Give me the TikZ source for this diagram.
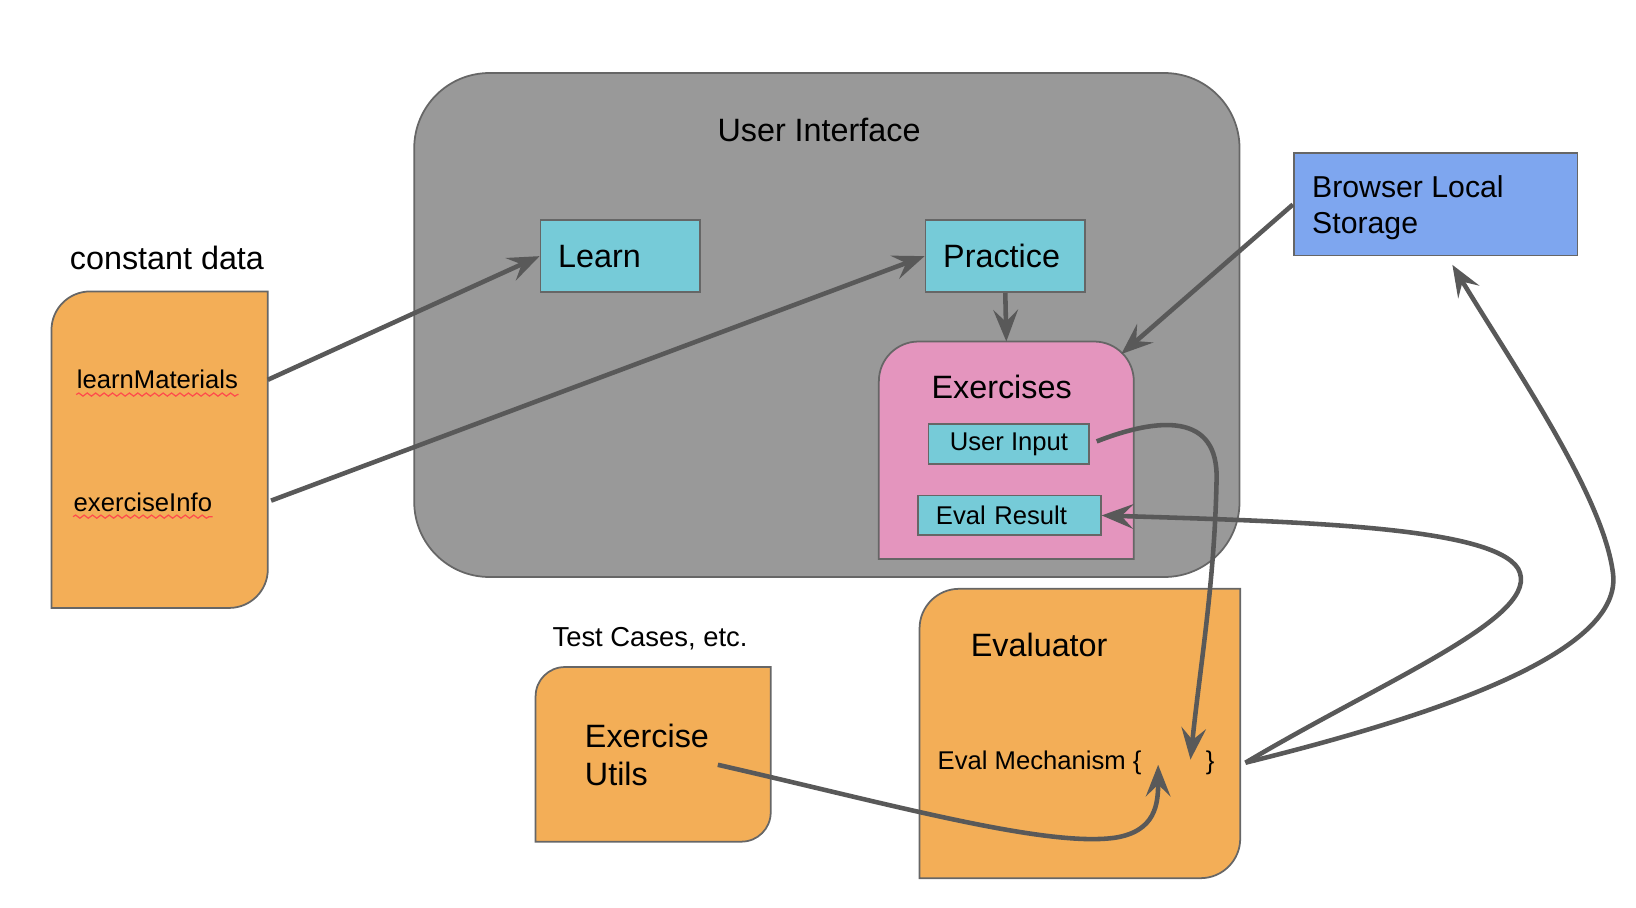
\documentclass[tikz,border=0pt]{standalone}
\usepackage{fontspec}
\setmainfont{Liberation Sans}
\usetikzlibrary{arrows.meta,calc,decorations.pathmorphing}
\newcommand{\px}{0.010434cm}
\newcommand{\bigtxt}{\fontsize{9.2}{11}\selectfont}
\newcommand{\midtxt}{\fontsize{8.6}{10.1}\selectfont}
\newcommand{\testtxt}{\fontsize{7.8}{9}\selectfont}
\newcommand{\smalltxt}{\fontsize{7.3}{8.5}\selectfont}
\definecolor{orangefill}{HTML}{F3AE57}
\definecolor{grayfill}{HTML}{999999}
\definecolor{cyanfill}{HTML}{76CBD8}
\definecolor{pinkfill}{HTML}{E495BE}
\definecolor{bluefill}{HTML}{7EA6EF}
\definecolor{edgegray}{HTML}{666666}
\definecolor{arrowgray}{HTML}{595959}
\tikzset{
  box/.style={draw=edgegray, line width=0.5pt},
  cyanbox/.style={box, fill=cyanfill, inner sep=0pt},
  txt/.style={inner sep=0pt},
  link/.style={draw=arrowgray, line width=1.3pt, -{Stealth[length=9pt,width=7pt,inset=3.4pt]}},
  squiggle/.style={draw=red!70, line width=0.35pt, decorate, decoration={snake, amplitude=0.45pt, segment length=2.4pt}}
}
\begin{document}
\begin{tikzpicture}[x=\px, y=-\px]
\pgfmathsetmacro{\rcd}{37}
\pgfmathsetmacro{\rut}{28}
\pgfmathsetmacro{\rev}{38}
\useasboundingbox (0,0) rectangle (1568,870.2);
\node[box, fill=grayfill, rounded corners=72*\px, minimum width=791*\px, minimum height=483*\px] (ui) at (792.5,311.5) {};
\node[txt, font=\bigtxt] (uititle) at (785,125) {User Interface};
\node[cyanbox, font=\bigtxt, minimum width=153*\px, minimum height=69*\px, text width=119*\px, inner xsep=17*\px, align=left] (learn) at (594.5,245.5) {Learn};
\node[cyanbox, font=\bigtxt, minimum width=153*\px, minimum height=69*\px, text width=119*\px, inner xsep=17*\px, align=left] (practice) at (963.5,245.5) {Practice};
\node[minimum width=243*\px, minimum height=207*\px] (ex) at (964.5,431.5) {};
\draw[box, fill=pinkfill] (ex.south west) -- ([yshift=-38*\px]ex.north west) arc[start angle=180, end angle=90, radius=38*\px] -- ([xshift=-38*\px]ex.north east) arc[start angle=90, end angle=0, radius=38*\px] -- (ex.south east) -- cycle;
\node[txt, font=\bigtxt] (extitle) at (960,371) {Exercises};
\node[cyanbox, font=\smalltxt, minimum width=154*\px, minimum height=38*\px] (uin) at (967,425.5) {User Input};
\node[cyanbox, font=\smalltxt, minimum width=175*\px, minimum height=38*\px, text width=141*\px, inner xsep=17*\px, align=left] (eres) at (967.5,494) {Eval Result};
\node[box, fill=bluefill, minimum width=272*\px, minimum height=98*\px] (store) at (1376,196) {};
\node[txt, font=\midtxt, anchor=west, align=left] (storetxt) at (1257,199) {Browser Local\\Storage};
\node[txt, font=\bigtxt] (cdtitle) at (160,247) {constant data};
\node[minimum width=206*\px, minimum height=302*\px] (cdbox) at (153,431) {};
\draw[box, fill=orangefill] (cdbox.south west) -- ([yshift=-\rcd*\px]cdbox.north west) arc[start angle=180, end angle=90, radius=\rcd*\px] -- (cdbox.north east) -- ([yshift=\rcd*\px]cdbox.south east) arc[start angle=0, end angle=-90, radius=\rcd*\px] -- cycle;
\node[txt, font=\smalltxt, anchor=west] (lm) at (73,364) {learnMaterials};
\node[txt, font=\smalltxt, anchor=west] (ei) at (70,481) {exerciseInfo};
\draw[squiggle] ([yshift=-1.6pt]lm.base west) -- ([yshift=-1.6pt]lm.base east);
\draw[squiggle] ([yshift=-1.6pt]ei.base west) -- ([yshift=-1.6pt]ei.base east);
\node[txt, font=\testtxt] (tctitle) at (623,612) {Test Cases, etc.};
\node[minimum width=224*\px, minimum height=166*\px] (utbox) at (626,723) {};
\draw[box, fill=orangefill] (utbox.south west) -- ([yshift=-\rut*\px]utbox.north west) arc[start angle=180, end angle=90, radius=\rut*\px] -- (utbox.north east) -- ([yshift=\rut*\px]utbox.south east) arc[start angle=0, end angle=-90, radius=\rut*\px] -- cycle;
\node[txt, font=\bigtxt, anchor=west, align=left] (utils) at (560,723.5) {Exercise\\Utils};
\node[minimum width=306*\px, minimum height=276*\px] (evbox) at (1035,703) {};
\draw[box, fill=orangefill] (evbox.south west) -- ([yshift=-\rev*\px]evbox.north west) arc[start angle=180, end angle=90, radius=\rev*\px] -- (evbox.north east) -- ([yshift=\rev*\px]evbox.south east) arc[start angle=0, end angle=-90, radius=\rev*\px] -- cycle;
\node[txt, font=\bigtxt] (evtitle) at (996,618) {Evaluator};
\node[txt, font=\smalltxt, anchor=west] (mech) at (898,731) {Eval Mechanism \{};
\node[txt, font=\smalltxt, anchor=west] (brace) at (1155,731) {\}};
\coordinate (evout) at ($(brace.east -| evbox.east)+(5,0)$);
\coordinate (utout) at (688,733);
\coordinate (slotA) at (1141,728);
\coordinate (slotB) at (1110,733);
\draw[link] (lm.east -| cdbox.east) -- (learn.west);
\draw[link, shorten <=1pt] (ei.east -| cdbox.east) -- (practice.west);
\draw[link] (practice.south) -- (ex.north);
\draw[link] (store.west) -- ([shift={(-12,12)}]ex.north east);
\draw[link, shorten <=2pt] (uin.east) .. controls (1110,400) and (1168,395) .. (1166,460) .. controls (1164,560) and (1150,640) .. (slotA);
\draw[link] (utout) .. controls (850,770) and (1000,812) .. (1068,803) .. controls (1108,797) and (1110,770) .. (slotB);
\draw[link] (evout) .. controls (1330,650) and (1480,590) .. (1455,545) .. controls (1430,505) and (1250,500) .. (eres.east);
\draw[link] (evout) .. controls (1380,685) and (1555,625) .. (1546,550) .. controls (1537,475) and (1450,350) .. ([shift={(16,8)}]store.south);
\end{tikzpicture}
\end{document}
